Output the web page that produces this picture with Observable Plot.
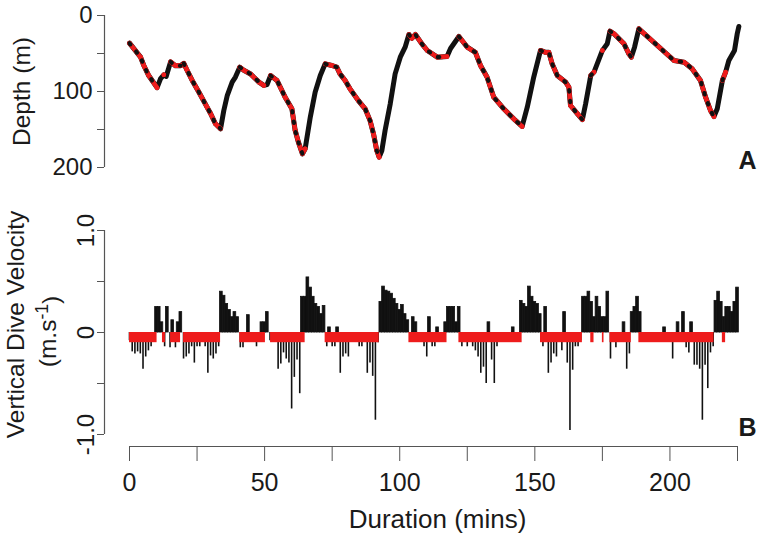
<!DOCTYPE html>
<html><head><meta charset="utf-8">
<script src="https://cdn.jsdelivr.net/npm/d3@7"></script>
<script src="https://cdn.jsdelivr.net/npm/@observablehq/plot@0.6"></script>
<style>
html,body{margin:0;padding:0;background:#fff;}
#wrap{position:relative;width:762px;height:541px;overflow:hidden;background:#fff;}
#wrap svg{position:absolute;left:0;}
</style></head><body><div id="wrap"></div>
<script>
// ---- Panel A: dive depth profile (time in minutes, depth in metres)
const depthTime = [0,4.1,5.3,7.1,10.2,11.5,12.7,13.6,15.2,17.0,
  18.9,20.1,21.3,23.2,25.7,28.7,30.0,31.8,33.7,34.9,
  36.2,38.0,39.2,40.8,42.3,44.8,47.9,49.7,50.9,52.2,
  54.6,57.6,60.1,61.3,62.5,64.0,65.0,66.9,68.7,70.6,
  72.4,74.9,76.7,77.9,79.8,81.6,84.7,87.2,89.0,90.3,
  91.5,92.4,93.4,94.6,96.5,98.3,100.2,102.0,103.4,104.5,
  105.8,108.2,110.2,113.9,117.5,118.8,121.9,125.0,128.0,129.9,
  132.3,134.8,138.5,142.2,145.3,147.2,149.6,152.1,154.0,155.2,
  156.4,158.3,161.4,162.6,163.2,165.7,167.6,168.8,170.7,171.9,
  175.0,176.8,177.8,179.3,183.0,184.8,185.7,186.9,188.5,201.5,
  205.2,208.2,211.3,213.2,215.0,216.3,217.5,219.4,220.6,221.8,
  223.9,224.9,225.5];
const depthM = [36.4,54.8,65.8,79,95,83,78,80,61,66,
  66,63,72,85.5,101,120.6,129,142.5,149,125,
  105,87.7,81,68,72,77,87.7,92,91,79,
  85.5,107.5,122.8,151,166.7,182,175.4,133.8,101,79,
  63.6,65.8,68,76.8,85.5,96.5,112,122.8,138,155.7,
  177.6,186.4,177.6,151,116,76.8,54.8,41.7,25,30,
  25,37.3,46,54.8,54,43.4,27.6,41.7,48.5,65.8,
  81,107.5,122.8,136,146,120.6,81,46,48.5,48.5,
  63.6,78.9,87.7,94.3,118.4,129,137,116.2,79,74.5,
  46,37.3,20.6,24,37.3,50.4,54.8,41.7,17.5,59.2,
  61.4,70,85.5,107.5,125,133,122.8,85.5,74.5,59.2,
  46,24,14.5];

// ---- drift phases (red), start / end in minutes
const driftStart = [0,12.2,15.2,20.0,40.8,52.2,72.4,103.4,121.9,152.1,170.7,175.0,177.8,188.5,219.4];
const driftEnd   = [10.2,13.3,18.9,33.7,50.3,65.0,92.4,117.5,145.3,167.6,171.9,175.6,185.7,216.3,220.6];
const driftVelocity = -0.1;

// ---- Panel B: vertical velocity, one value per minute from 0 to 225
const velocity = [
 -0.08,-0.19,-0.21,-0.19,-0.21,-0.36,-0.24,-0.18,-0.14,-0.08,
  0.25, 0.25, 0.10,-0.14, 0.25,-0.15, 0.12,-0.15, 0.10, 0.20,
 -0.26,-0.24,-0.21,-0.14,-0.30,-0.14,-0.14,-0.08,-0.14,-0.40,
 -0.23,-0.26,-0.21,-0.14, 0.40, 0.36, 0.28, 0.22, 0.15, 0.20,
  0.15,-0.15,-0.15,-0.08, 0.17,-0.08,-0.08,-0.14,-0.08, 0.10,
  0.10, 0.20,-0.08,-0.08,-0.08,-0.36,-0.31,-0.20,-0.26,-0.30,
 -0.75,-0.44,-0.27,-0.60, 0.35, 0.35, 0.54, 0.44, 0.35, 0.28,
  0.25, 0.18, 0.26,-0.14, 0.05,-0.14,-0.14, 0.05,-0.40,-0.24,
 -0.21,-0.24,-0.08,-0.08,-0.08,-0.14,-0.14,-0.08,-0.40,-0.30,
 -0.43,-0.86,-0.10, 0.30, 0.45, 0.41, 0.40, 0.38, 0.33, 0.28,
  0.22, 0.27, 0.18, 0.12,-0.08, 0.15, 0.10,-0.08,-0.08,-0.14,
 -0.24, 0.15,-0.14,-0.14, 0.05,-0.08,-0.08, 0.10, 0.25, 0.25,
  0.25, 0.10, 0.25,-0.14,-0.08,-0.14,-0.08,-0.14,-0.18,-0.24,
 -0.40,-0.34,-0.50, 0.10,-0.27,-0.50,-0.14,-0.08,-0.08,-0.08,
 -0.08,-0.08, 0.05,-0.08,-0.08, 0.31, 0.28, 0.25, 0.45, 0.35,
  0.30, 0.28, 0.18,-0.14, 0.25,-0.40,-0.30,-0.21,-0.24,-0.08,
 -0.18, 0.20,-0.30,-0.96,-0.37,-0.14,-0.14,-0.08, 0.35, 0.35,
  0.40, 0.30, 0.15, 0.35, 0.25, 0.15, 0.15, 0.40,-0.26,-0.08,
 -0.15,-0.08,-0.08, 0.10,-0.36,-0.21, 0.20, 0.25, 0.35, 0.20,
 -0.08,-0.08,-0.08,-0.08,-0.08,-0.08,-0.08,-0.08, 0.05,-0.08,
 -0.08,-0.26,-0.08, 0.10,-0.08, 0.20,-0.15,-0.20, 0.10,-0.32,
 -0.32,-0.36,-0.86,-0.32,-0.55,-0.20,-0.14, 0.31, 0.40, 0.30,
  0.15, 0.25, 0.25, 0.20, 0.30, 0.44];

// ---- ticks
const depthTicks = [0,50,100,150,200];
const depthTickLabels = ["0","","100","","200"];
const velTicks = [-1,-0.5,0,0.5,1];
const velTickLabels = ["-1.0","","0","","1.0"];
const timeTicks = [0,25,50,75,100,125,150,175,200,225];
const timeTickLabels = ["0","","50","","100","","150","","200",""];

// ---- derived tables
const depth = depthTime.map((t,i)=>({t, d: depthM[i]}));
const drift = driftStart.map((s,i)=>({s, e: driftEnd[i]}));
const redPts = [];
drift.forEach((g,k)=>depth.forEach(p=>{ if (p.t >= g.s-1e-6 && p.t <= g.e+1e-6) redPts.push({t:p.t, d:p.d, seg:k}); }));
const vel = velocity.map((v,i)=>({t:i, v}));
const velUp = vel.filter(d => d.v > 0);
const velDown = vel.filter(d => d.v <= 0);

const RED = "#ee1c1c", INK = "#111", AX = "#555";
const FONT = "'Liberation Sans', Arial, Helvetica, sans-serif";
const style = {fontFamily: FONT, color: "#1a1a1a", background: "transparent", overflow: "visible"};
const W = 762;

const topPlot = Plot.plot({
  width: W, height: 200, marginLeft: 129, marginRight: 25, marginTop: 15, marginBottom: 33,
  style,
  x: {domain: [0,225], axis: null},
  y: {domain: [0,200], reverse: true, axis: null},
  marks: [
    Plot.ruleX([0], {y1: 0, y2: 200, dx: -25, stroke: AX, strokeWidth: 1.2}),
    Plot.axisY({ticks: depthTicks, tickFormat: d => depthTickLabels[depthTicks.indexOf(d)],
      tickSize: 7, tickPadding: 5, dx: -25, fontSize: 24, stroke: AX, label: null}),
    Plot.line(depth, {x: "t", y: "d", stroke: INK, strokeWidth: 5, strokeLinejoin: "round", strokeLinecap: "round"}),
    Plot.line(redPts, {x: "t", y: "d", z: "seg", stroke: RED, strokeWidth: 4.6, strokeLinejoin: "round", strokeLinecap: "round"}),
    Plot.dot(redPts, {x: "t", y: "d", r: 2.3, fill: RED}),
    Plot.line(redPts, {x: "t", y: "d", z: "seg", stroke: INK, strokeWidth: 4, strokeDasharray: "1.6,9"}),
    Plot.text(["A"], {frameAnchor: "bottom-right", textAnchor: "start", lineAnchor: "bottom", dx: 1, dy: 1, fontWeight: "bold", fontSize: 25}),
    Plot.text(["Depth (m)"], {frameAnchor: "left", textAnchor: "middle", rotate: -90, dx: -107, fontSize: 24.5})
  ]
});
topPlot.style.top = "0px";

const botPlot = Plot.plot({
  width: W, height: 341, marginLeft: 129, marginRight: 25, marginTop: 30, marginBottom: 107,
  style,
  x: {domain: [0,225], axis: null},
  y: {domain: [-1,1], axis: null},
  marks: [
    Plot.ruleX([0], {y1: -1, y2: 1, dx: -25, stroke: AX, strokeWidth: 1.2}),
    Plot.axisY({ticks: velTicks, tickFormat: d => velTickLabels[velTicks.indexOf(d)],
      tickSize: 7, tickPadding: 4, tickRotate: -90, dx: -25, fontSize: 24, stroke: AX, label: null}),
    Plot.rect(velUp, {x1: d => d.t - 0.5, x2: d => d.t + 0.5, y1: 0, y2: "v", fill: INK, stroke: INK, strokeWidth: 0.8}),
    Plot.ruleX(velDown, {x: "t", y1: 0, y2: "v", stroke: INK, strokeWidth: 1.6}),
    Plot.rect(drift, {x1: "s", x2: "e", y1: 0, y2: driftVelocity, fill: RED}),
    Plot.ruleY([-1], {x1: 0, x2: 225, dy: 12, stroke: AX, strokeWidth: 1.2}),
    Plot.axisX({ticks: timeTicks, tickFormat: d => timeTickLabels[timeTicks.indexOf(d)],
      anchor: "bottom", tickSize: 15, tickPadding: 12, dy: 12, fontSize: 25, stroke: AX, label: null}),
    Plot.text(["B"], {frameAnchor: "bottom-right", textAnchor: "start", lineAnchor: "bottom", dx: 1, dy: 1, fontWeight: "bold", fontSize: 25}),
    Plot.text(["Duration (mins)"], {frameAnchor: "bottom", lineAnchor: "bottom", dx: 4, dy: 93, fontSize: 26}),
    Plot.text(["Vertical Dive Velocity"], {frameAnchor: "left", textAnchor: "middle", rotate: -90, dx: -113, dy: -8, fontSize: 24.5}),
    Plot.text(["(m.s-1)"], {frameAnchor: "left", textAnchor: "middle", rotate: -90, dx: -81, dy: -1, fontSize: 24.5})
  ]
});
botPlot.style.top = "200px";

// superscript for the unit
d3.select(botPlot).selectAll("text").filter(function(){ return this.textContent === "(m.s-1)"; })
  .each(function(){
    const t = d3.select(this); t.text(null);
    t.append("tspan").text("(m.s");
    t.append("tspan").attr("dy", "-0.45em").attr("font-size", "72%").text("-1");
    t.append("tspan").attr("dy", "0.45em").text(")");
  });

const wrap = document.getElementById("wrap");
wrap.appendChild(topPlot);
wrap.appendChild(botPlot);
</script>
</body></html>
